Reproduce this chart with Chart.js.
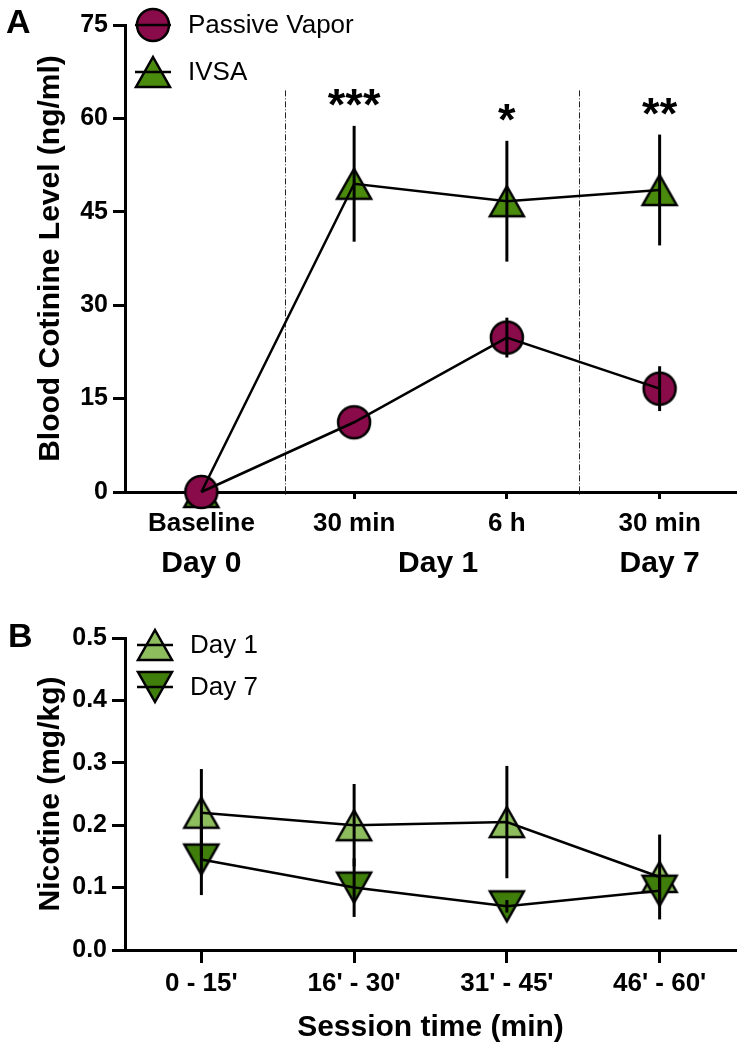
<!DOCTYPE html>
<html>
<head>
<meta charset="utf-8">
<script src="https://cdn.jsdelivr.net/npm/chart.js@4/dist/chart.umd.min.js"></script>
<style>
  html, body { margin: 0; padding: 0; background: #fff; }
  #panelA { position: absolute; left: 0; top: 0; width: 754px; height: 600px; }
  #panelB { position: absolute; left: 0; top: 575px; width: 754px; height: 475px; }
</style>
</head>
<body>
<div id="panelA"><canvas id="cotinine"></canvas></div>
<div id="panelB"><canvas id="nicotine"></canvas></div>
<script>
// ---- panel A data
const timepoints = ['Baseline', '30 min', '6 h', '30 min'];
const dayGroups = ['Day 0', 'Day 1', 'Day 7'];
const dayGroupAt = [0, 1.55, 3];
const dividers = [0.55, 2.47];
const passiveVapor = [0, 11.2, 24.8, 16.6];
const passiveVaporSem = [0, 0, 3.2, 3.6];
const ivsa = [0, 49.5, 46.7, 48.5];
const ivsaSem = [0, 9.3, 9.7, 8.9];
const stars = ['', '***', '*', '**'];
const cotinineTicks = [0, 15, 30, 45, 60, 75];

// ---- panel B data
const sessionBins = ["0 - 15'", "16' - 30'", "31' - 45'", "46' - 60'"];
const day1 = [0.22, 0.20, 0.205, 0.117];
const day1Sem = [0.07, 0.066, 0.09, 0.068];
const day7 = [0.145, 0.10, 0.07, 0.095];
const day7Sem = [0.057, 0.047, 0.01, 0.02];
const nicotineTicks = [0, 0.1, 0.2, 0.3, 0.4, 0.5];

const FONT = "'Liberation Sans', Arial, Helvetica, sans-serif";
const MAROON = '#8a0b4a';
const GREEN = '#4a8a0c';
const LIGHT_GREEN = '#8dbd5c';
const DARK_GREEN = '#3f7e0b';

Chart.defaults.font.family = FONT;
Chart.defaults.color = '#000';

function triangle(fill, down) {
  const c = document.createElement('canvas');
  c.width = 42; c.height = 38;
  const g = c.getContext('2d');
  const w = 34, h = 30, cx = 21, cy = 19;
  g.beginPath();
  if (down) {
    g.moveTo(cx - w / 2, cy - h / 2); g.lineTo(cx + w / 2, cy - h / 2); g.lineTo(cx, cy + h / 2);
  } else {
    g.moveTo(cx, cy - h / 2); g.lineTo(cx + w / 2, cy + h / 2); g.lineTo(cx - w / 2, cy + h / 2);
  }
  g.closePath();
  g.fillStyle = fill; g.fill();
  g.lineWidth = 2.5; g.strokeStyle = '#000'; g.stroke();
  return c;
}

function circle(fill) {
  const c = document.createElement('canvas');
  c.width = 38; c.height = 38;
  const g = c.getContext('2d');
  g.beginPath(); g.arc(19, 19, 16, 0, Math.PI * 2);
  g.fillStyle = fill; g.fill();
  g.lineWidth = 2.5; g.strokeStyle = '#000'; g.stroke();
  return c;
}

const circleMaroon = circle(MAROON);
const triGreen = triangle(GREEN, false);
const triLight = triangle(LIGHT_GREEN, false);
const triDark = triangle(DARK_GREEN, true);

function lineSet(data) {
  return { data, borderColor: '#000', borderWidth: 2.5, pointRadius: 0, tension: 0, clip: false };
}
function markerSet(data, style, order) {
  return { data, showLine: false, pointStyle: style, pointRadius: 17, order, clip: false };
}

function errorBars(series) {
  return {
    id: 'errorBars',
    afterDatasetsDraw(chart) {
      const { ctx, scales: { x, y } } = chart;
      ctx.save();
      ctx.strokeStyle = '#000';
      ctx.lineWidth = 3;
      series.forEach(s => s.mean.forEach((m, i) => {
        const e = s.sem[i];
        if (!e) return;
        const px = x.getPixelForValue(i);
        ctx.beginPath();
        ctx.moveTo(px, y.getPixelForValue(m - e));
        ctx.lineTo(px, y.getPixelForValue(m + e));
        ctx.stroke();
      }));
      ctx.restore();
    }
  };
}

function insideLegend(items) {
  return {
    id: 'insideLegend',
    afterDraw(chart) {
      const ctx = chart.ctx;
      ctx.save();
      items.forEach(it => {
        ctx.drawImage(it.img, it.x - it.img.width / 2, it.y - it.img.height / 2);
        ctx.beginPath();
        ctx.moveTo(it.x - 18, it.y);
        ctx.lineTo(it.x + 18, it.y);
        ctx.lineWidth = 2.5;
        ctx.strokeStyle = '#000';
        ctx.stroke();
        ctx.font = '26px ' + FONT;
        ctx.fillStyle = '#000';
        ctx.textBaseline = 'middle';
        ctx.textAlign = 'left';
        ctx.fillText(it.label, it.x + 35, it.y + 1);
      });
      ctx.restore();
    }
  };
}

function panelLetter(letter, x, y) {
  return {
    id: 'panelLetter',
    afterDraw(chart) {
      const ctx = chart.ctx;
      ctx.save();
      ctx.font = 'bold 34px ' + FONT;
      ctx.fillStyle = '#000';
      ctx.textBaseline = 'alphabetic';
      ctx.fillText(letter, x, y);
      ctx.restore();
    }
  };
}

const annotationsA = {
  id: 'annotationsA',
  beforeDatasetsDraw(chart) {
    const { ctx, scales: { x, y }, chartArea } = chart;
    ctx.save();
    ctx.strokeStyle = '#222';
    ctx.lineWidth = 1;
    ctx.setLineDash([6, 2, 1, 2]);
    dividers.forEach(d => {
      const px = Math.round(x.getPixelForValue(d)) + 0.5;
      ctx.beginPath();
      ctx.moveTo(px, y.getPixelForValue(64.5));
      ctx.lineTo(px, chartArea.bottom + 3);
      ctx.stroke();
    });
    ctx.restore();
  },
  afterDraw(chart) {
    const { ctx, scales: { x, y }, chartArea } = chart;
    ctx.save();
    ctx.fillStyle = '#000';
    ctx.textAlign = 'center';
    ctx.font = 'bold 45px ' + FONT;
    stars.forEach((s, i) => {
      if (!s) return;
      const m = ctx.measureText(s);
      const top = y.getPixelForValue(ivsa[i] + ivsaSem[i]) - 28;
      ctx.fillText(s, x.getPixelForValue(i), top + m.actualBoundingBoxAscent - (m.actualBoundingBoxAscent + m.actualBoundingBoxDescent) / 2);
    });
    ctx.font = 'bold 30px ' + FONT;
    dayGroups.forEach((g, i) => {
      ctx.fillText(g, x.getPixelForValue(dayGroupAt[i]), chartArea.bottom + 80);
    });
    ctx.restore();
  }
};

function axisStyle(tickLength) {
  return {
    border: { display: true, color: '#000', width: 3 },
    grid: { display: true, drawOnChartArea: false, drawTicks: true, tickLength, tickWidth: 3, tickColor: '#000' }
  };
}

new Chart(document.getElementById('cotinine'), {
  type: 'line',
  data: {
    labels: timepoints,
    datasets: [
      Object.assign(lineSet(passiveVapor), { order: 0 }),
      Object.assign(lineSet(ivsa), { order: 1 }),
      markerSet(passiveVapor, circleMaroon, 2),
      markerSet(ivsa, triGreen, 3)
    ]
  },
  options: {
    responsive: true,
    maintainAspectRatio: false,
    animation: false,
    events: [],
    layout: { padding: { left: 0, top: 25, right: 3, bottom: 0 } },
    plugins: { legend: { display: false }, tooltip: { enabled: false } },
    scales: {
      x: {
        type: 'category',
        offset: true,
        afterFit: s => { s.height = 108; },
        ...axisStyle(7),
        ticks: { color: '#000', padding: 9, maxRotation: 0, autoSkip: false, font: { size: 26, weight: 'bold' } }
      },
      y: {
        min: 0, max: 75,
        afterFit: s => { s.width = 125; },
        afterBuildTicks: s => { s.ticks = cotinineTicks.map(v => ({ value: v })); },
        ...axisStyle(12),
        ticks: { color: '#000', padding: 5, font: { size: 25, weight: 'bold' } },
        title: { display: true, text: 'Blood Cotinine Level (ng/ml)', color: '#000', padding: { top: 33 }, font: { size: 30, weight: 'bold' } }
      }
    }
  },
  plugins: [
    annotationsA,
    errorBars([{ mean: passiveVapor, sem: passiveVaporSem }, { mean: ivsa, sem: ivsaSem }]),
    insideLegend([{ label: 'Passive Vapor', img: circleMaroon, x: 153, y: 25 }, { label: 'IVSA', img: triGreen, x: 153, y: 72 }]),
    panelLetter('A', 6, 33)
  ]
});

new Chart(document.getElementById('nicotine'), {
  type: 'line',
  data: {
    labels: sessionBins,
    datasets: [
      Object.assign(lineSet(day1), { order: 0 }),
      Object.assign(lineSet(day7), { order: 1 }),
      markerSet(day7, triDark, 2),
      markerSet(day1, triLight, 3)
    ]
  },
  options: {
    responsive: true,
    maintainAspectRatio: false,
    animation: false,
    events: [],
    layout: { padding: { left: 0, top: 63, right: 3, bottom: 0 } },
    plugins: { legend: { display: false }, tooltip: { enabled: false } },
    scales: {
      x: {
        type: 'category',
        offset: true,
        afterFit: s => { s.height = 100; },
        ...axisStyle(13),
        ticks: { color: '#000', padding: 5, maxRotation: 0, autoSkip: false, font: { size: 26, weight: 'bold' } },
        title: { display: true, text: 'Session time (min)', color: '#000', padding: { bottom: 4 }, font: { size: 30, weight: 'bold' } }
      },
      y: {
        min: 0, max: 0.5,
        afterFit: s => { s.width = 125; },
        afterBuildTicks: s => { s.ticks = nicotineTicks.map(v => ({ value: v })); },
        ...axisStyle(13),
        ticks: { color: '#000', padding: 5, font: { size: 25, weight: 'bold' }, callback: v => v.toFixed(1) },
        title: { display: true, text: 'Nicotine (mg/kg)', color: '#000', padding: { top: 33 }, font: { size: 30, weight: 'bold' } }
      }
    }
  },
  plugins: [
    errorBars([{ mean: day1, sem: day1Sem }, { mean: day7, sem: day7Sem }]),
    insideLegend([{ label: 'Day 1', img: triLight, x: 155, y: 70 }, { label: 'Day 7', img: triDark, x: 155, y: 112 }]),
    panelLetter('B', 8, 72)
  ]
});
</script>
</body>
</html>
